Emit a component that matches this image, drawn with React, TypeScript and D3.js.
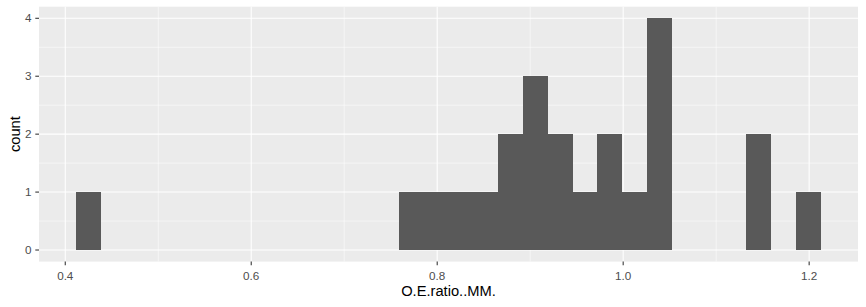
import React from "react";
import * as d3 from "d3";

// Histogram: 30 bins
const binStart = 0.4118;
const binWidth = 0.02669;
const binCounts = [1, 0, 0, 0, 0, 0, 0, 0, 0, 0, 0, 0, 0, 1, 1, 1, 1, 2, 3, 2, 1, 2, 1, 4, 0, 0, 0, 2, 0, 1];
const xTicks = [0.4, 0.6, 0.8, 1.0, 1.2];
const xMinor = [0.5, 0.7, 0.9, 1.1];
const yTicks = [0, 1, 2, 3, 4];
const yMinor = [0.5, 1.5, 2.5, 3.5];
const xLabel = "O.E.ratio..MM.";
const yLabel = "count";

export default function App() {
  const W = 866, H = 307;
  const left = 39, right = 858, top = 6.7, bottom = 261.6;
  const bins = binCounts.map((c, i) => ({ x0: binStart + i * binWidth, x1: binStart + (i + 1) * binWidth, c }));
  const lo = binStart, hi = binStart + binCounts.length * binWidth;
  const ex = (hi - lo) * 0.05;
  const x = d3.scaleLinear().domain([lo - ex, hi + ex]).range([left, right]);
  const maxC = d3.max(binCounts) as number;
  const ey = maxC * 0.05;
  const y = d3.scaleLinear().domain([-ey, maxC + ey]).range([bottom, top]);
  const font = "'Liberation Sans', Arial, sans-serif";
  return (
    <svg width={W} height={H} style={{ position: "absolute", left: 0, top: 0 }} fontFamily={font}>
      <rect x={0} y={0} width={W} height={H} fill="#FFFFFF" />
      <rect x={left} y={top} width={right - left} height={bottom - top} fill="#EBEBEB" />
      {xMinor.map((t) => (
        <line key={"xm" + t} x1={x(t)} x2={x(t)} y1={top} y2={bottom} stroke="#FFFFFF" strokeWidth={0.53} />
      ))}
      {yMinor.map((t) => (
        <line key={"ym" + t} x1={left} x2={right} y1={y(t)} y2={y(t)} stroke="#FFFFFF" strokeWidth={0.53} />
      ))}
      {xTicks.map((t) => (
        <line key={"xM" + t} x1={x(t)} x2={x(t)} y1={top} y2={bottom} stroke="#FFFFFF" strokeWidth={1.07} />
      ))}
      {yTicks.map((t) => (
        <line key={"yM" + t} x1={left} x2={right} y1={y(t)} y2={y(t)} stroke="#FFFFFF" strokeWidth={1.07} />
      ))}
      {bins.filter((b) => b.c > 0).map((b, i) => (
        <rect key={i} x={x(b.x0)} y={y(b.c)} width={x(b.x1) - x(b.x0)} height={y(0) - y(b.c)} fill="#595959" shapeRendering="crispEdges" />
      ))}
      {xTicks.map((t) => (
        <g key={"xt" + t}>
          <line x1={x(t)} x2={x(t)} y1={bottom} y2={bottom + 3.7} stroke="#333333" strokeWidth={1.07} />
          <text x={x(t)} y={279.5} textAnchor="middle" fontSize={11.7} fill="#4D4D4D">{d3.format(".1f")(t)}</text>
        </g>
      ))}
      {yTicks.map((t) => (
        <g key={"yt" + t}>
          <line x1={left - 3.7} x2={left} y1={y(t)} y2={y(t)} stroke="#333333" strokeWidth={1.07} />
          <text x={31.5} y={y(t)} dy="0.35em" textAnchor="end" fontSize={11.7} fill="#4D4D4D">{t}</text>
        </g>
      ))}
      <text x={(left + right) / 2} y={296} textAnchor="middle" fontSize={14.7} fill="#000000">{xLabel}</text>
      <text transform={`translate(20, ${(top + bottom) / 2}) rotate(-90)`} textAnchor="middle" fontSize={14.7} fill="#000000">{yLabel}</text>
    </svg>
  );
}
